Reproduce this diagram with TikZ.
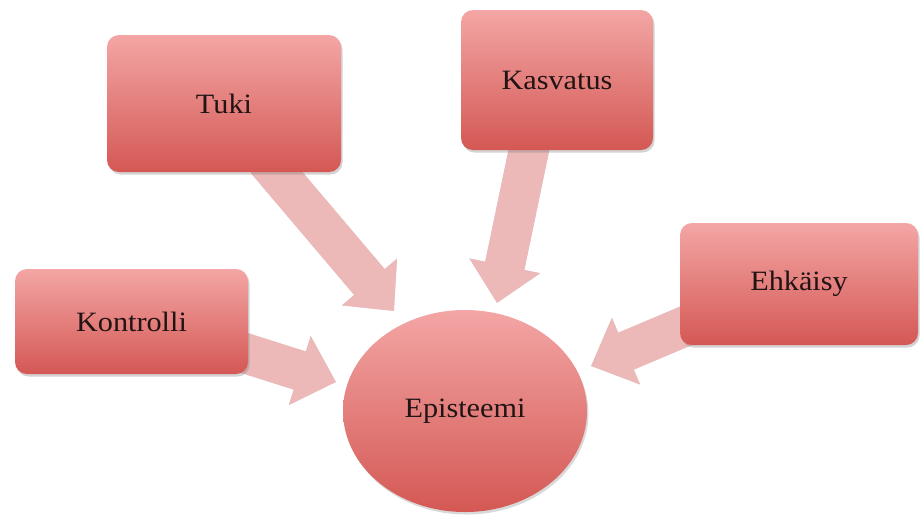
\documentclass[tikz,border=0pt]{standalone}
\usepackage{fontspec}
\setmainfont{Liberation Serif}[FakeStretch=1.08]
\usetikzlibrary{shapes.geometric,shadows,arrows.meta}
\definecolor{boxtop}{RGB}{243,166,165}
\definecolor{boxbot}{RGB}{212,88,84}
\definecolor{arrowpink}{RGB}{236,184,184}
\definecolor{txt}{RGB}{32,20,20}
\tikzset{
  boxstyle/.style={rectangle, rounded corners=12pt, top color=boxtop, bottom color=boxbot,
    draw=none, drop shadow={shadow xshift=1.5pt, shadow yshift=-2.5pt, opacity=0.35},
    text=txt, font=\fontsize{28}{32}\selectfont, inner sep=0pt},
  ellstyle/.style={ellipse, top color=boxtop, bottom color=boxbot, draw=none,
    drop shadow={shadow xshift=1.5pt, shadow yshift=-2.5pt, opacity=0.3},
    text=txt, font=\fontsize{28}{32}\selectfont, inner sep=0pt},
  blockarrow/.style={line width=40pt, draw=arrowpink, -{Triangle[width=70pt,length=38pt]}},
  arrowshade/.style={line width=40pt, draw=black, draw opacity=0.15, -{Triangle[width=70pt,length=38pt]}, fill opacity=0.15, fill=black}
}
\begin{document}
\begin{tikzpicture}[x=1pt,y=-1pt]
\useasboundingbox (0,0) rectangle (920,515);
% arrow end points
\coordinate (ta) at (266,160);
\coordinate (tb) at (394,311);
\coordinate (ka) at (531,140);
\coordinate (kb) at (497,303);
\coordinate (ca) at (235,350);
\coordinate (cb) at (336,382);
\coordinate (ea) at (702,319);
\coordinate (eb) at (591,366);
% arrow shadows
\begin{scope}[xshift=1.5pt,yshift=-2pt]
\draw[arrowshade] (ta) -- (tb);
\draw[arrowshade] (ka) -- (kb);
\draw[arrowshade] (ca) -- (cb);
\draw[arrowshade] (ea) -- (eb);
\end{scope}
% arrows
\draw[blockarrow] (ta) -- (tb);
\draw[blockarrow] (ka) -- (kb);
\draw[blockarrow] (ca) -- (cb);
\draw[blockarrow] (ea) -- (eb);
% nodes
\node[boxstyle, minimum width=234pt, minimum height=137pt] (tuki) at (224,103.5) {Tuki};
\node[boxstyle, minimum width=192pt, minimum height=140pt] (kasvatus) at (557,80) {Kasvatus};
\node[boxstyle, minimum width=233pt, minimum height=105pt] (kontrolli) at (131.5,321.5) {Kontrolli};
\node[boxstyle, minimum width=238pt, minimum height=122pt] (ehkaisy) at (799,284) {Ehkäisy};
\node[ellstyle, minimum width=244pt, minimum height=202pt] (episteemi) at (465,411) {Episteemi};
\end{tikzpicture}
\end{document}
